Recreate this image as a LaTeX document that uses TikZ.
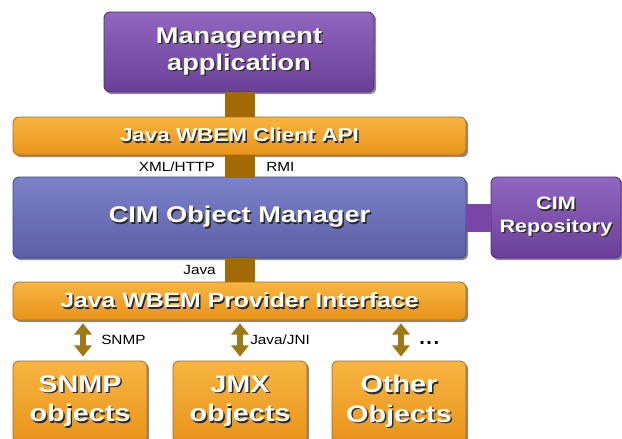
\documentclass[tikz,border=0pt]{standalone}
\usepackage{fontspec}
\setmainfont{Liberation Sans}
\newfontfamily\boxfont{Liberation Sans}[FakeStretch=1.2, UprightFont={* Bold}]
\newfontfamily\labfont{Liberation Sans}[FakeStretch=1.15]
\usetikzlibrary{shadows,arrows.meta}
\definecolor{purpleT}{HTML}{9066C0}
\definecolor{purpleB}{HTML}{6A3F98}
\definecolor{purpleD}{HTML}{4E2A75}
\definecolor{orangeT}{HTML}{F8B540}
\definecolor{orangeB}{HTML}{E8931A}
\definecolor{orangeD}{HTML}{B06A08}
\definecolor{blueT}{HTML}{7C82C8}
\definecolor{blueB}{HTML}{5A5FA6}
\definecolor{blueD}{HTML}{3E4280}
\definecolor{barc}{HTML}{A26A02}
\definecolor{pconn}{HTML}{7A45A8}
\definecolor{arrc}{HTML}{9C7816}
\definecolor{shadowc}{HTML}{2A2A2A}
\newcommand\shd[1]{\leavevmode\rlap{\kern1.1pt\raisebox{-1.1pt}{\color{shadowc}#1}}#1}
\tikzset{
  box/.style={rounded corners=4.5pt, draw=#1, line width=0.6pt,
    drop shadow={shadow xshift=1.6pt, shadow yshift=-1.6pt, opacity=.45, fill=black},
    text=white, align=center, inner sep=0pt},
  purplebox/.style={box=purpleD, top color=purpleT, bottom color=purpleB},
  orangebox/.style={box=orangeD, top color=orangeT, bottom color=orangeB},
  bluebox/.style={box=blueD, top color=blueT, bottom color=blueB},
  bar/.style={draw=barc, line width=22.5pt},
  pbar/.style={draw=pconn, line width=21pt},
  dblarrow/.style={draw=arrc, line width=5pt,
    {Triangle[width=13pt,length=8.5pt]}-{Triangle[width=13pt,length=8.5pt]},
    shorten <=2.2pt, shorten >=3pt},
  lab/.style={font=\labfont\fontsize{10}{12}\selectfont, text=black, inner sep=0pt},
}
\begin{document}
\begin{tikzpicture}[x=0.75pt,y=-0.75pt]
\useasboundingbox (0,0) rectangle (622,439);
\clip (0,0) rectangle (622,439);
\fill[white] (0,0) rectangle (622,439);
\coordinate (bx) at (240,0);

\node[purplebox, minimum width=202.5pt, minimum height=60pt,
  font=\boxfont\fontsize{17}{20.5}\selectfont] (mgmt) at (239,52)
  {\shd{Management}\\\shd{application}};
\node[orangebox, minimum width=339.75pt, minimum height=28.5pt,
  font=\boxfont\fontsize{14}{16}\selectfont] (client) at (239.5,136)
  {\shd{Java WBEM Client API}};
\node[bluebox, minimum width=339.75pt, minimum height=60.75pt,
  font=\boxfont\fontsize{17}{20}\selectfont] (cim) at (239.5,217.5)
  {\shd{CIM Object Manager}};
\node[purplebox, minimum width=97.5pt, minimum height=60.75pt,
  font=\boxfont\fontsize{13.5}{17}\selectfont] (repo) at (556,217.5)
  {\shd{CIM}\\\shd{Repository}};
\node[orangebox, minimum width=339.75pt, minimum height=28.5pt,
  font=\boxfont\fontsize{15.5}{18}\selectfont] (prov) at (239.5,301)
  {\shd{Java WBEM Provider Interface}};
\node[orangebox, minimum width=100.5pt, minimum height=61.5pt,
  font=\boxfont\fontsize{18}{22}\selectfont] (snmp) at (80,402)
  {\shd{SNMP}\\\shd{objects}};
\node[orangebox, minimum width=100.5pt, minimum height=61.5pt,
  font=\boxfont\fontsize{18}{22}\selectfont] (jmx) at (240,402)
  {\shd{JMX}\\\shd{objects}};
\node[orangebox, minimum width=100.5pt, minimum height=61.5pt,
  font=\boxfont\fontsize{18}{22}\selectfont] (other) at (399,402)
  {\shd{Other}\\\shd{Objects}};

\draw[bar] (mgmt.south -| bx) -- (client.north -| bx);
\draw[bar] (client.south -| bx) -- (cim.north -| bx);
\draw[bar] (cim.south -| bx) -- (prov.north -| bx);
\draw[pbar] (cim.east) -- (repo.west);

\coordinate (a1) at (83,0);
\coordinate (a2) at (240,0);
\coordinate (a3) at (401,0);
\draw[dblarrow] (prov.south -| a1) -- (snmp.north -| a1);
\draw[dblarrow] (prov.south -| a2) -- (jmx.north -| a2);
\draw[dblarrow] (prov.south -| a3) -- (other.north -| a3);

\node[lab, anchor=east] (xml) at (215,167) {XML/HTTP};
\node[lab, anchor=west] (rmi) at (266,167) {RMI};
\node[lab, anchor=east] (java) at (216,270) {Java};
\node[lab, anchor=west] (lsnmp) at (101,340) {SNMP};
\node[lab, anchor=west] (ljni) at (250,340) {Java/JNI};
\node[lab, anchor=base west, font=\bfseries\fontsize{15}{16}\selectfont] (ldots) at (419,344) {.\kern1.2pt.\kern1.2pt.};
\end{tikzpicture}
\end{document}
